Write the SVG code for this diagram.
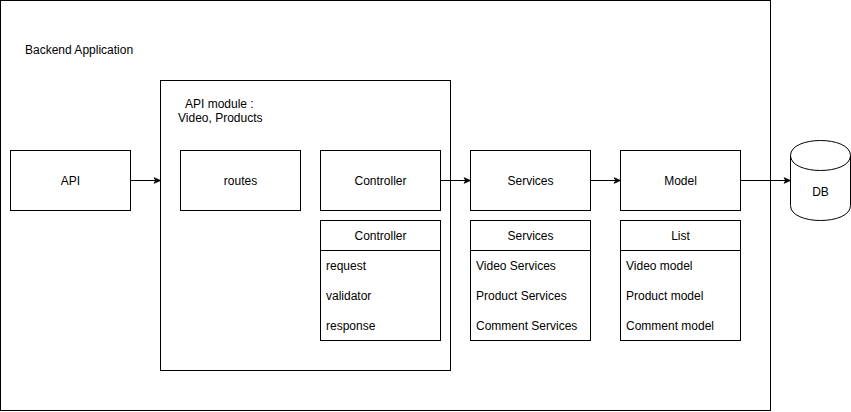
<svg xmlns="http://www.w3.org/2000/svg" width="851" height="412" viewBox="0 0 851 412">
<style>
.b{fill:#fff;stroke:#000;stroke-width:1}
.t{font-family:"Liberation Sans",Arial,Helvetica,sans-serif;font-size:12px;fill:#000}
.c{text-anchor:middle}
.e{fill:none;stroke:#000;stroke-width:1}
</style>
<defs>
<marker id="ah" viewBox="0 0 10 10" refX="9" refY="5" markerWidth="8" markerHeight="8" markerUnits="userSpaceOnUse" orient="auto">
<path d="M1,1.5 L9,5 L1,8.5 L3,5 Z" fill="#000" stroke="#000" stroke-width="1"/>
</marker>
</defs>
<g id="backend">
<rect class="b" x="0.5" y="0.5" width="770" height="410"/>
<text class="t" x="25" y="54">Backend Application</text>
</g>
<g id="api-module">
<rect class="b" x="160.5" y="80.5" width="290" height="290"/>
<text class="t" x="185" y="108">API module :</text>
<text class="t" x="178" y="122">Video, Products</text>
</g>
<g id="api">
<rect class="b" x="10.5" y="150.5" width="120" height="60"/>
<text class="t c" x="70.5" y="185">API</text>
</g>
<g id="routes">
<rect class="b" x="180.5" y="150.5" width="120" height="60"/>
<text class="t c" x="240.5" y="185">routes</text>
</g>
<g id="controller">
<rect class="b" x="320.5" y="150.5" width="120" height="60"/>
<text class="t c" x="380.5" y="185">Controller</text>
</g>
<g id="services">
<rect class="b" x="470.5" y="150.5" width="120" height="60"/>
<text class="t c" x="530.5" y="185">Services</text>
</g>
<g id="model">
<rect class="b" x="620.5" y="150.5" width="120" height="60"/>
<text class="t c" x="680.5" y="185">Model</text>
</g>
<g id="controller-list">
<rect class="b" x="320.5" y="220.5" width="120" height="120"/>
<line class="e" x1="320.5" y1="250.5" x2="440.5" y2="250.5"/>
<text class="t c" x="380.5" y="240">Controller</text>
<text class="t" x="326" y="270">request</text>
<text class="t" x="326" y="300">validator</text>
<text class="t" x="326" y="330">response</text>
</g>
<g id="services-list">
<rect class="b" x="470.5" y="220.5" width="120" height="120"/>
<line class="e" x1="470.5" y1="250.5" x2="590.5" y2="250.5"/>
<text class="t c" x="530.5" y="240">Services</text>
<text class="t" x="476" y="270">Video Services</text>
<text class="t" x="476" y="300">Product Services</text>
<text class="t" x="476" y="330">Comment Services</text>
</g>
<g id="model-list">
<rect class="b" x="620.5" y="220.5" width="120" height="120"/>
<line class="e" x1="620.5" y1="250.5" x2="740.5" y2="250.5"/>
<text class="t c" x="680.5" y="240">List</text>
<text class="t" x="626" y="270">Video model</text>
<text class="t" x="626" y="300">Product model</text>
<text class="t" x="626" y="330">Comment model</text>
</g>
<g id="db">
<path class="b" d="M790.5,155.5 C790.5,135.5 850.5,135.5 850.5,155.5 L850.5,205.5 C850.5,225.5 790.5,225.5 790.5,205.5 Z"/>
<path class="e" d="M790.5,155.5 C790.5,175.5 850.5,175.5 850.5,155.5"/>
<text class="t c" x="820.5" y="196">DB</text>
</g>
<g id="connectors">
<line class="e" x1="130.5" y1="180.5" x2="160.5" y2="180.5" marker-end="url(#ah)"/>
<line class="e" x1="440.5" y1="180.5" x2="470.5" y2="180.5" marker-end="url(#ah)"/>
<line class="e" x1="590.5" y1="180.5" x2="620.5" y2="180.5" marker-end="url(#ah)"/>
<line class="e" x1="740.5" y1="180.5" x2="790.5" y2="180.5" marker-end="url(#ah)"/>
</g>
</svg>
